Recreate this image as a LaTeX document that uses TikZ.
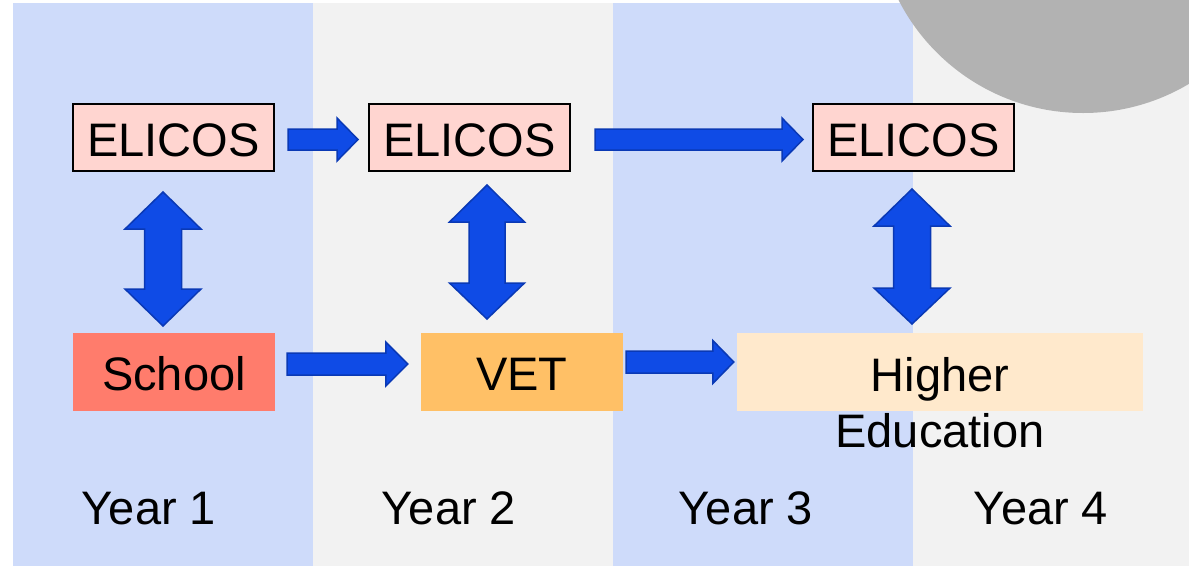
\documentclass[tikz,border=0pt]{standalone}
\usepackage{fontspec}
\setmainfont{Liberation Sans}
\usetikzlibrary{calc}
\definecolor{colblue}{RGB}{206,219,250}
\definecolor{colgrey}{RGB}{242,242,242}
\definecolor{circgrey}{RGB}{178,178,178}
\definecolor{elpink}{RGB}{255,213,208}
\definecolor{schoolred}{RGB}{255,124,108}
\definecolor{vetorange}{RGB}{255,192,102}
\definecolor{hecream}{RGB}{255,233,204}
\definecolor{arrfill}{RGB}{15,75,230}
\definecolor{arrdraw}{RGB}{10,57,181}
\tikzset{
  txt/.style={font=\fontsize{47}{56}\selectfont, inner sep=0pt, text depth=0pt},
  elbox/.style={txt, draw=black, line width=2pt, fill=elpink, minimum width=201pt, minimum height=67pt, text height=37pt},
  plainbox/.style={txt, minimum height=78pt},
  barrow/.style={fill=arrfill, draw=arrdraw, line width=1.5pt, line join=miter},
  yearlbl/.style={txt, anchor=base}
}
\newcommand\harr[5]{%
  \filldraw[barrow] let \p1=(#1), \p2=(#2) in
    (\x1,\y1+#3) -- (\x2-#5,\y1+#3) -- (\x2-#5,\y1+#4) -- (\x2,\y1) --
    (\x2-#5,\y1-#4) -- (\x2-#5,\y1-#3) -- (\x1,\y1-#3) -- cycle;}
\newcommand\varr[6]{%
  \filldraw[barrow] let \p1=(#1), \p2=(#2) in
    (\x1,\y1) -- (\x1+#4,\y1-#5) -- (\x1+#3,\y1-#5) -- (\x1+#3,\y2+#6) --
    (\x1+#4,\y2+#6) -- (\x1,\y2) -- (\x1-#4,\y2+#6) -- (\x1-#3,\y2+#6) --
    (\x1-#3,\y1-#5) -- (\x1-#4,\y1-#5) -- cycle;}
\begin{document}
\begin{tikzpicture}[x=1pt,y=-1pt]
\useasboundingbox (0,0) rectangle (1189,566);
\fill[white] (0,0) rectangle (1189,566);
\fill[colblue] (13,3) rectangle (313,566);
\fill[colgrey] (313,3) rectangle (613,566);
\fill[colblue] (613,3) rectangle (913,566);
\fill[colgrey] (913,3) rectangle (1189,566);
\begin{scope}
\clip (0,0) rectangle (1189,566);
\fill[circgrey] (1083,-94) circle[radius=207pt];
\end{scope}

% boxes
\node[elbox] (e1) at (173.5,137.5) {ELICOS};
\node[elbox] (e2) at (469.5,137.5) {ELICOS};
\node[elbox] (e3) at (913.5,137.5) {ELICOS};
\node[plainbox, fill=schoolred, minimum width=202pt, minimum height=77.5pt, text height=36.5pt] (school) at (174,371.75) {School};
\node[plainbox, fill=vetorange, minimum width=202pt, text height=36pt] (vet) at (522,372) {VET};
\node[plainbox, fill=hecream, minimum width=406pt, text height=38pt] (he) at (940,372) {Higher};
\node[txt, anchor=base] (edu) at (940,447) {Education};

% year labels
\node[yearlbl] (y1) at (149,524) {Year 1};
\node[yearlbl] (y2) at (449,524) {Year 2};
\node[yearlbl] (y3) at (746,524) {Year 3};
\node[yearlbl] (y4) at (1041,524) {Year 4};

% horizontal arrow ends
\coordinate (a1s) at ($(e1.east)+(13,2)$);
\coordinate (a1e) at ($(e2.west)+(-10,2)$);
\coordinate (a2s) at ($(e2.east)+(24,2)$);
\coordinate (a2e) at ($(e3.west)+(-9,2)$);
\coordinate (a3s) at ($(school.east)+(12,-7.75)$);
\coordinate (a3e) at ($(vet.west)+(-13,-8)$);
\coordinate (a4s) at ($(vet.east)+(3,-10)$);
\coordinate (a4e) at ($(he.west)+(-3,-10)$);
\harr{a1s}{a1e}{10.5pt}{21.5pt}{21pt}
\harr{a2s}{a2e}{10.5pt}{21.5pt}{21pt}
\harr{a3s}{a3e}{11pt}{22pt}{22pt}
\harr{a4s}{a4e}{11pt}{21.5pt}{21pt}

% vertical double arrows
\coordinate (d1t) at (163,192);
\coordinate (d1b) at (163,326);
\coordinate (d2t) at (487,185);
\coordinate (d2b) at (487,319);
\coordinate (d3t) at (912,189);
\coordinate (d3b) at (912,324);
\varr{d1t}{d1b}{18.5pt}{38pt}{37pt}{37pt}
\varr{d2t}{d2b}{18pt}{37.5pt}{37pt}{36pt}
\varr{d3t}{d3b}{18.5pt}{38pt}{37pt}{36pt}
\end{tikzpicture}
\end{document}
